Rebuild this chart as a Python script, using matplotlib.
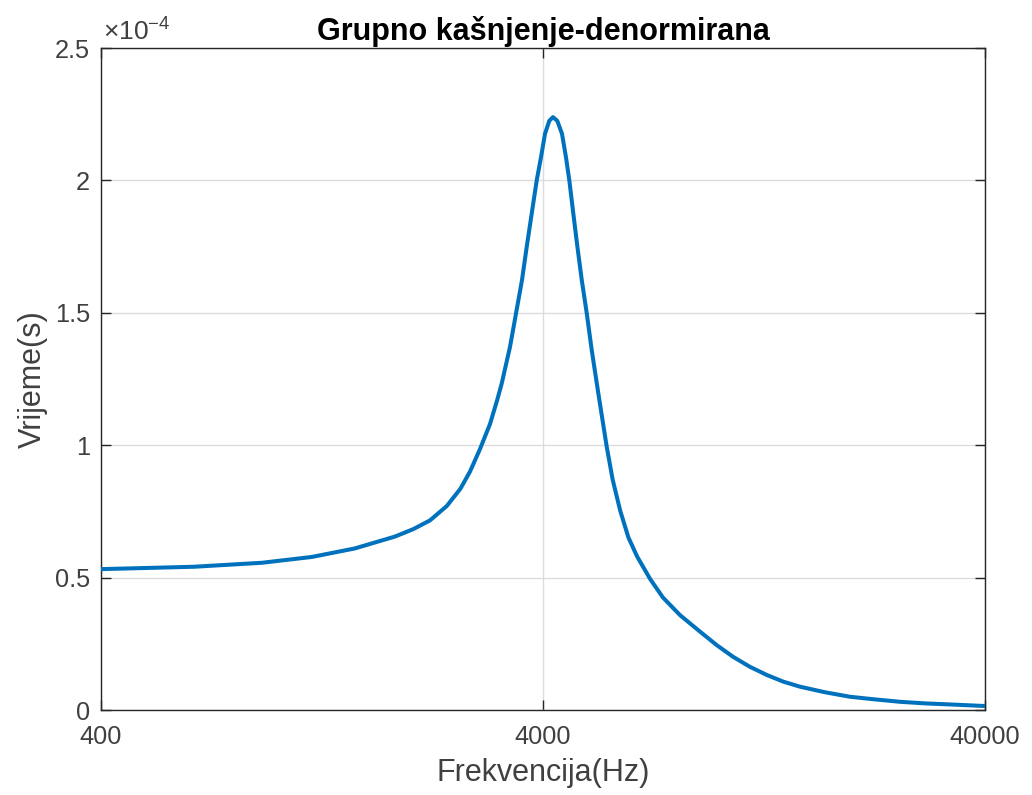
import matplotlib
matplotlib.use("Agg")
import matplotlib.pyplot as plt
from matplotlib.ticker import FixedLocator, NullLocator

# ---- data (frequency in Hz, group delay in units of 1e-4 s)
freq_hz = [400, 650, 925, 1200, 1500, 1850, 2035, 2220, 2422, 2600, 2734, 2880,
           3035, 3150, 3226, 3368, 3475, 3585, 3674, 3771, 3871, 3959, 4042,
           4133, 4213, 4309, 4416, 4508, 4588, 4685, 4786, 4896, 5025, 5157,
           5337, 5575, 5750, 5980, 6240, 6530, 6988, 7470, 8170, 9063, 9888,
           10764, 11757, 12847, 13988, 15260, 17380, 19800, 22560, 25680,
           29250, 33330, 40000]
delay_e4 = [0.532, 0.541, 0.556, 0.578, 0.610, 0.655, 0.683, 0.716, 0.770, 0.835,
            0.900, 0.985, 1.080, 1.170, 1.233, 1.371, 1.497, 1.623, 1.748, 1.874,
            2.000, 2.088, 2.176, 2.225, 2.239, 2.225, 2.176, 2.088, 2.000, 1.874,
            1.748, 1.623, 1.497, 1.358, 1.195, 0.994, 0.870, 0.753, 0.652, 0.580,
            0.495, 0.425, 0.358, 0.296, 0.245, 0.201, 0.163, 0.132, 0.107, 0.088,
            0.067, 0.050, 0.040, 0.031, 0.025, 0.021, 0.015]
x_ticks = [400, 4000, 40000]
x_tick_labels = ["400", "4000", "40000"]
y_ticks_e4 = [0, 0.5, 1, 1.5, 2, 2.5]
y_tick_labels = ["0", "0.5", "1", "1.5", "2", "2.5"]

title = "Grupno kašnjenje-denormirana"
xlabel = "Frekvencija(Hz)"
ylabel = "Vrijeme(s)"

plt.rcParams["font.family"] = ["Liberation Sans", "DejaVu Sans"]
plt.rcParams["mathtext.fontset"] = "custom"
plt.rcParams["mathtext.rm"] = "Liberation Sans"
plt.rcParams["mathtext.it"] = "Liberation Sans"

txt_col = "#404040"
ax_col = "#262626"

fig = plt.figure(figsize=(10.32, 7.95), dpi=100)
ax = fig.add_axes([101 / 1032, 85 / 795, 884 / 1032, 662 / 795])

ax.plot(freq_hz, [v * 1e-4 for v in delay_e4], color="#0072BD", lw=2.9,
        solid_capstyle="round", solid_joinstyle="round", zorder=3)

ax.set_xscale("log")
ax.set_xlim(400, 40000)
ax.set_ylim(0, 2.5e-4)
ax.xaxis.set_major_locator(FixedLocator(x_ticks))
ax.xaxis.set_minor_locator(NullLocator())
ax.set_xticklabels(x_tick_labels)
ax.yaxis.set_major_locator(FixedLocator([v * 1e-4 for v in y_ticks_e4]))
ax.set_yticklabels(y_tick_labels)

ax.grid(True, which="major", color="#dcdcdc", lw=1.0, zorder=0)
ax.set_axisbelow(True)

ax.tick_params(which="both", direction="in", length=7.5, width=1.0,
               top=True, right=True, colors=ax_col, labelcolor=txt_col,
               labelsize=18.3)
ax.tick_params(axis="x", pad=11)
ax.tick_params(axis="y", pad=8)
for s in ax.spines.values():
    s.set_color(ax_col)
    s.set_linewidth(1.0)

ax.set_title(title, fontsize=22, fontweight="bold", color="black", pad=6)
ax.set_xlabel(xlabel, fontsize=22, color=txt_col, labelpad=6)
ax.set_ylabel(ylabel, fontsize=22, color=txt_col, labelpad=5)

ax.text(0.002, 1.004, r"$\times$10$^{-4}$", transform=ax.transAxes,
        ha="left", va="bottom", fontsize=19, color=txt_col)

fig.savefig("out.png", dpi=100, facecolor="white")
